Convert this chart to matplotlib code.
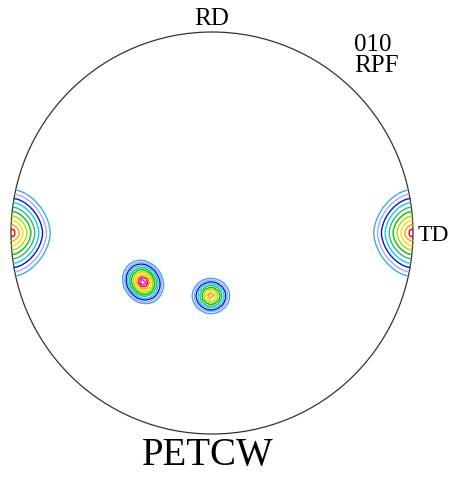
import numpy as np
import matplotlib.pyplot as plt
from matplotlib.patches import Circle

# pole density peaks in the projection plane (unit circle)
peak_x = [-0.995, 0.995, -0.343, -0.005]
peak_y = [0.0, 0.0, -0.244, -0.313]
peak_height = [14.0, 14.0, 22.0, 13.0]
width_long = [0.082, 0.082, 0.036, 0.036]
width_short = [0.072, 0.072, 0.031, 0.034]
tilt_deg = [90, 90, -58, 0]
norm_q = [1.75, 1.75, 2.0, 2.0]

levels = [1, 1.3, 1.7, 2.2, 2.9, 3.8, 5, 6.5, 8.5, 11, 14]
level_colors = ['#3fa9f5', '#a8a8ff', '#1010d8', '#00d8e8', '#40b070',
                '#00c000', '#a0e000', '#ffd800', '#ffa000', '#ff0000', '#e000e0']

W, H = 460, 482
cx, cy, R = 212, 233, 201   # circle centre / radius in pixels

fig = plt.figure(figsize=(W / 100, H / 100), dpi=100)
ax = fig.add_axes([(cx - R) / W, (H - cy - R) / H, 2 * R / W, 2 * R / H])
ax.set_xlim(-1, 1)
ax.set_ylim(-1, 1)
ax.axis('off')

g = np.linspace(-1.05, 1.05, 106)
X, Y = np.meshgrid(g, g)
Z = np.zeros_like(X)
for px, py, a, wl, ws, t, q in zip(peak_x, peak_y, peak_height, width_long,
                                   width_short, tilt_deg, norm_q):
    th = np.radians(t)
    u = (X - px) * np.cos(th) + (Y - py) * np.sin(th)
    v = -(X - px) * np.sin(th) + (Y - py) * np.cos(th)
    d = (np.abs(u / wl) ** q + np.abs(v / ws) ** q) ** (1 / q)
    Z += a * np.exp(-d)

rim = Circle((0, 0), 1.0, transform=ax.transData, facecolor='none')
cs = ax.contour(X, Y, Z, levels=levels, colors=level_colors, linewidths=1.0)
cs.set_clip_path(rim)

ax.add_patch(Circle((0, 0), 1.0, facecolor='none', edgecolor='#333333',
                    linewidth=0.9, clip_on=False))

serif = 'Liberation Serif'
fig.text(212 / W, 1 - 19 / H, 'RD', ha='center', va='center', fontsize=18, family=serif)
fig.text(354 / W, 1 - 45 / H, '010', ha='left', va='center', fontsize=18, family=serif)
fig.text(354 / W, 1 - 66 / H, 'RPF', ha='left', va='center', fontsize=18, family=serif)
fig.text(418 / W, 1 - 235 / H, 'TD', ha='left', va='center', fontsize=17, family=serif)
fig.text(208 / W, 1 - 456 / H, 'PETCW', ha='center', va='center', fontsize=28, family=serif)

fig.savefig('out.png', dpi=100)
